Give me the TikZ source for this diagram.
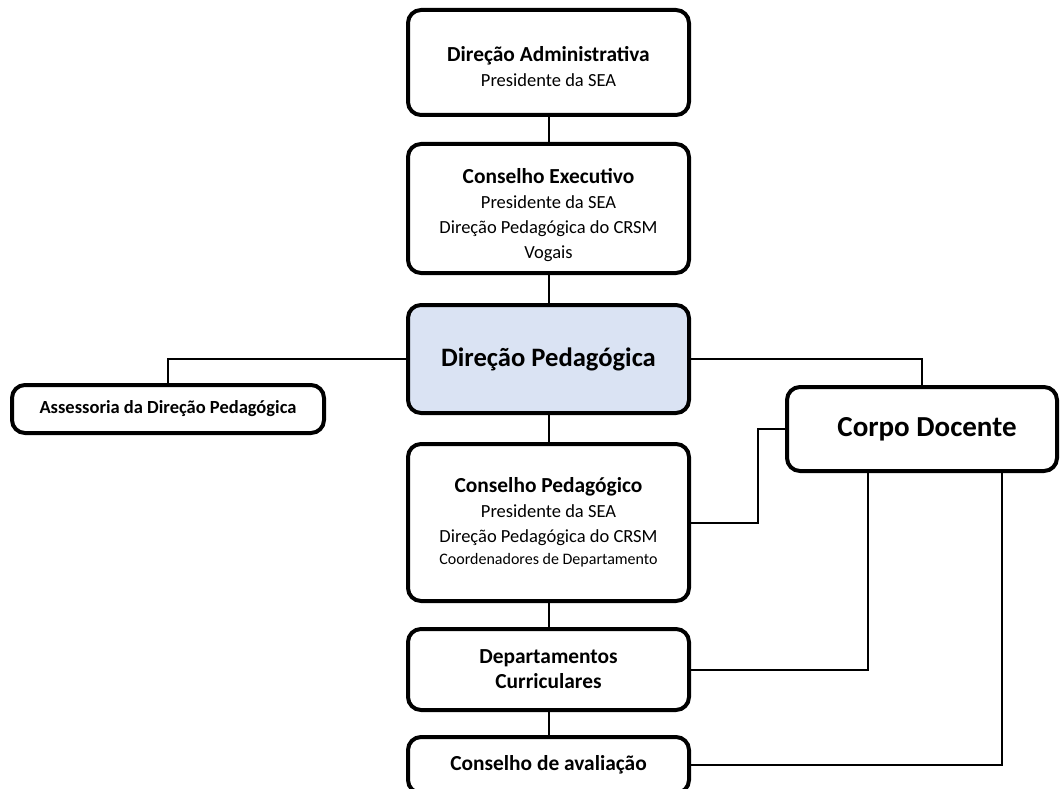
\documentclass[tikz,border=0pt]{standalone}
\usepackage{fontspec}
\setmainfont{Carlito}
\usetikzlibrary{positioning}

\definecolor{dpblue}{HTML}{DAE3F3}
\newcommand{\titulo}[1]{{\fontsize{21.4}{25}\selectfont\bfseries #1}}
\newcommand{\espaco}[1]{\rule{0pt}{#1}}

\begin{document}
\begin{tikzpicture}[x=1pt,y=-1pt,node distance=25pt,
  orgbox/.style={draw, line width=4pt, rounded corners=13pt, align=center,
    minimum width=281pt, inner sep=0pt, font=\fontsize{18.5}{25}\selectfont},
  link/.style={line width=2pt}]
\path[use as bounding box, clip] (0,0) rectangle (1060,789);

% the main column
  \node[orgbox, minimum height=105pt] (dadm) at (548.5,62.5)
{\espaco{23pt}\titulo{Direção Administrativa}\\Presidente da SEA};
  \node[orgbox, minimum height=129pt] (cexec) [below=of dadm]
{\espaco{28pt}\titulo{Conselho Executivo}\\Presidente da SEA\\Direção Pedagógica do CRSM\\Vogais};
  \node[orgbox, minimum height=108pt, fill=dpblue] (dped) [below=28pt of cexec]
{\fontsize{26.6}{30}\selectfont\bfseries Direção Pedagógica};
  \node[orgbox, minimum height=157pt] (cped) [below=27pt of dped]
{\titulo{Conselho Pedagógico}\\Presidente da SEA\\Direção Pedagógica do CRSM\\[-3pt]
 {\fontsize{16}{22}\selectfont Coordenadores de Departamento}};
  \node[orgbox, minimum height=81pt] (deptos) [below=24pt of cped]
{\titulo{Departamentos}\\\titulo{Curriculares}};
  \node[orgbox, minimum height=56pt] (cavl) [below=23pt of deptos]
{\titulo{Conselho de avaliação}};

% the side boxes
  \node[orgbox, minimum width=312pt, minimum height=48pt] (assess) at (168,409)
{\titulo{\fontsize{18.5}{25}\selectfont Assessoria da Direção Pedagógica}};
  \node[orgbox, minimum width=270pt, minimum height=84pt] (corpo) at (922,429)
{\hspace*{10pt}\fontsize{29}{34}\selectfont\bfseries Corpo Docente};

% the links
  \draw[link] (dadm) -- (cexec);
  \draw[link] (cexec) -- (dped);
  \draw[link] (dped) -- (cped);
  \draw[link] (cped) -- (deptos);
  \draw[link] (deptos) -- (cavl);
  \draw[link] (dped.west) -| (assess.north);
  \draw[link] (dped.east) -| (corpo.north);
  \draw[link] (cped.east) -- ++(67,0) |- (corpo.west);
  \draw[link] (deptos.east) -| ([xshift=-54pt]corpo.south);
  \draw[link] (cavl.east) -| ([xshift=80pt]corpo.south);

\end{tikzpicture}
\end{document}
